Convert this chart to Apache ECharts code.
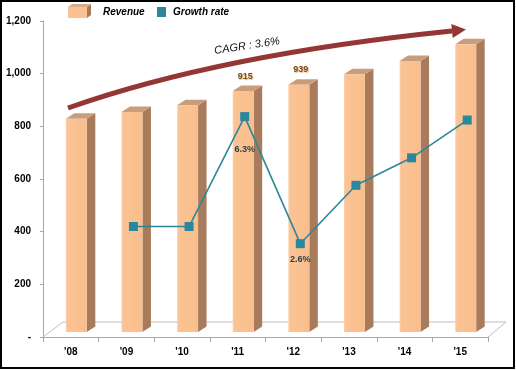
<!DOCTYPE html>
<html>
<head>
<meta charset="utf-8">
<script src="https://cdn.jsdelivr.net/npm/echarts@6/dist/echarts.min.js"></script>
<style>
html,body{margin:0;padding:0;background:#fff;}
#c{width:516px;height:370px;}
</style>
</head>
<body>
<div id="c"></div>
<script>
const categories = ["'08", "'09", "'10", "'11", "'12", "'13", "'14", "'15"];
const revenue = [810, 835, 861, 915, 939, 979, 1029, 1093];
const growth = [null, 3.1, 3.1, 6.3, 2.6, 4.3, 5.1, 6.2];
const revenueLabelShown = [false, false, false, true, true, false, false, false];
const growthLabelShown = [false, false, false, true, true, false, false, false];
const growthLabelDistance = [0, 0, 0, 24, 7, 0, 0, 0];
const legendNames = ['Revenue', 'Growth rate'];
const cagrText = 'CAGR : 3.6%';

const FONT = '"Liberation Sans", Arial, sans-serif';
const G = {left: 43, top: 21, height: 316, right: 28};
const W = 516, H = 370;
const gx0 = G.left, gx1 = W - G.right, gy1 = G.top + G.height;

const chart = echarts.init(document.getElementById('c'), null, {renderer: 'canvas'});

function renderBar(params, api) {
  const i = api.value(0), v = api.value(1);
  const b = api.coord([i, 0]);
  const t = api.coord([i, v]);
  const cx = b[0];
  const x0 = cx - 5, w = 21, dx = 8.5, dy = -5.5, sy = -5;
  const yb = b[1] + sy, yt = t[1] + sy;
  const children = [
    {type: 'polygon', shape: {points: [[x0 + w, yt], [x0 + w + dx, yt + dy], [x0 + w + dx, yb + dy], [x0 + w, yb]]},
     style: {fill: '#A87B5C'}},
    {type: 'polygon', shape: {points: [[x0, yt], [x0 + dx, yt + dy], [x0 + w + dx, yt + dy], [x0 + w, yt]]},
     style: {fill: '#C99C7B'}},
    {type: 'rect', shape: {x: x0, y: yt, width: w, height: yb - yt},
     style: {fill: {type: 'linear', x: 0, y: 0, x2: 1, y2: 0, colorStops: [
       {offset: 0, color: '#FDD3AE'}, {offset: 0.08, color: '#FBC394'}, {offset: 1, color: '#F9BE8C'}]}}}
  ];
  if (revenueLabelShown[i]) {
    children.push({type: 'text', style: {text: String(v), x: x0 + w / 2 + 2, y: yt - 15,
      fill: '#7A4A14', font: 'bold 9px ' + FONT, align: 'center', verticalAlign: 'middle',
      textShadowColor: 'rgba(200,150,80,0.6)', textShadowBlur: 1, textShadowOffsetX: 1, textShadowOffsetY: 1}});
  }
  return {type: 'group', children: children};
}

const arrowStart = [68, 108], arrowCtrl = [220, 54.5], arrowEnd = [452, 31];
const dirRaw = [arrowEnd[0] - arrowCtrl[0], arrowEnd[1] - arrowCtrl[1]];
const dl = Math.hypot(dirRaw[0], dirRaw[1]);
const dir = [dirRaw[0] / dl, dirRaw[1] / dl];
const nrm = [-dir[1], dir[0]];
const tip = [arrowEnd[0] + 14 * dir[0], arrowEnd[1] + 14 * dir[1]];
const hb1 = [arrowEnd[0] + 7 * nrm[0], arrowEnd[1] + 7 * nrm[1]];
const hb2 = [arrowEnd[0] - 7 * nrm[0], arrowEnd[1] - 7 * nrm[1]];

const option = {
  animation: false,
  backgroundColor: '#fff',
  grid: [
    {left: G.left, right: G.right, top: G.top, height: G.height},
    {left: G.left + 7, right: G.right - 7, top: G.top - 4, height: G.height}
  ],
  xAxis: [
    {type: 'category', gridIndex: 0, data: categories, boundaryGap: true,
     axisLine: {show: true, lineStyle: {color: '#A6A6A6', width: 1}},
     axisTick: {show: true, length: 5, lineStyle: {color: '#A6A6A6'}},
     axisLabel: {color: '#000', fontFamily: FONT, fontWeight: 'bold', fontSize: 10, margin: 10},
     splitLine: {show: false}},
    {type: 'category', gridIndex: 1, data: categories, boundaryGap: true, show: false}
  ],
  yAxis: [
    {type: 'value', gridIndex: 0, min: 0, max: 1200, interval: 200,
     axisLine: {show: true, lineStyle: {color: '#A6A6A6', width: 1}},
     axisTick: {show: true, length: 3, lineStyle: {color: '#A6A6A6'}},
     splitLine: {show: false},
     axisLabel: {color: '#000', fontFamily: FONT, fontWeight: 'bold', fontSize: 10, margin: 12,
       formatter: v => v === 0 ? '-' : v.toLocaleString('en-US')}},
    {type: 'value', gridIndex: 1, min: 0, max: 9.2, show: false, splitLine: {show: false}}
  ],
  series: [
    {name: 'Revenue', type: 'custom', xAxisIndex: 0, yAxisIndex: 0, z: 2,
     renderItem: renderBar, encode: {x: 0, y: 1},
     data: revenue.map((v, i) => [i, v])},
    {name: 'Growth rate', type: 'line', xAxisIndex: 1, yAxisIndex: 1, z: 5,
     symbol: 'rect', symbolSize: 9, connectNulls: false,
     lineStyle: {color: '#2E8799', width: 1.6},
     itemStyle: {color: '#2B879D'},
     data: growth.map((v, i) => growthLabelShown[i] ? {value: v, label: {show: true, position: 'bottom',
       distance: growthLabelDistance[i], formatter: p => p.value.toFixed(1) + '%',
       color: '#1E3F48', fontFamily: FONT, fontWeight: 'bold', fontSize: 9}} : v)}
  ],
  graphic: [
    // outer frame
    {type: 'rect', z: 100, shape: {x: 1, y: 1, width: W - 3, height: H - 3},
     style: {fill: 'none', stroke: '#000', lineWidth: 2}},
    // floor
    {type: 'polyline', z: 0, shape: {points: [[gx0, gy1], [gx0 + 20, gy1 - 15], [gx1 + 18, gy1 - 15], [gx1, gy1]]},
     style: {stroke: '#BFBFBF', lineWidth: 1, fill: 'none'}},
    // CAGR arrow
    {type: 'bezierCurve', z: 10, shape: {x1: arrowStart[0], y1: arrowStart[1], cpx1: arrowCtrl[0], cpy1: arrowCtrl[1],
      x2: arrowEnd[0], y2: arrowEnd[1]}, style: {stroke: '#943634', lineWidth: 5, fill: 'none'}},
    {type: 'polygon', z: 10, shape: {points: [tip, hb1, hb2]}, style: {fill: '#943634'}},
    {type: 'text', z: 10, x: 247, y: 46, rotation: 0.15,
     style: {text: cagrText, font: 'italic 11px ' + FONT, fill: '#111', align: 'center', verticalAlign: 'middle'}},
    // legend
    {type: 'polygon', z: 10, shape: {points: [[87, 7], [91, 4], [91, 15], [87, 18]]}, style: {fill: '#A87B5C'}},
    {type: 'polygon', z: 10, shape: {points: [[68, 7], [72, 4], [91, 4], [87, 7]]}, style: {fill: '#D9AE8C'}},
    {type: 'rect', z: 10, shape: {x: 68, y: 7, width: 19, height: 11}, style: {fill: '#FBC291'}},
    {type: 'text', z: 10, x: 103, y: 12,
     style: {text: legendNames[0], font: 'italic bold 10px ' + FONT, fill: '#000', verticalAlign: 'middle'}},
    {type: 'rect', z: 10, shape: {x: 157, y: 7, width: 9, height: 10}, style: {fill: '#2B879D'}},
    {type: 'text', z: 10, x: 173, y: 12,
     style: {text: legendNames[1], font: 'italic bold 10px ' + FONT, fill: '#000', verticalAlign: 'middle'}}
  ]
};
chart.setOption(option);
</script>
</body>
</html>
